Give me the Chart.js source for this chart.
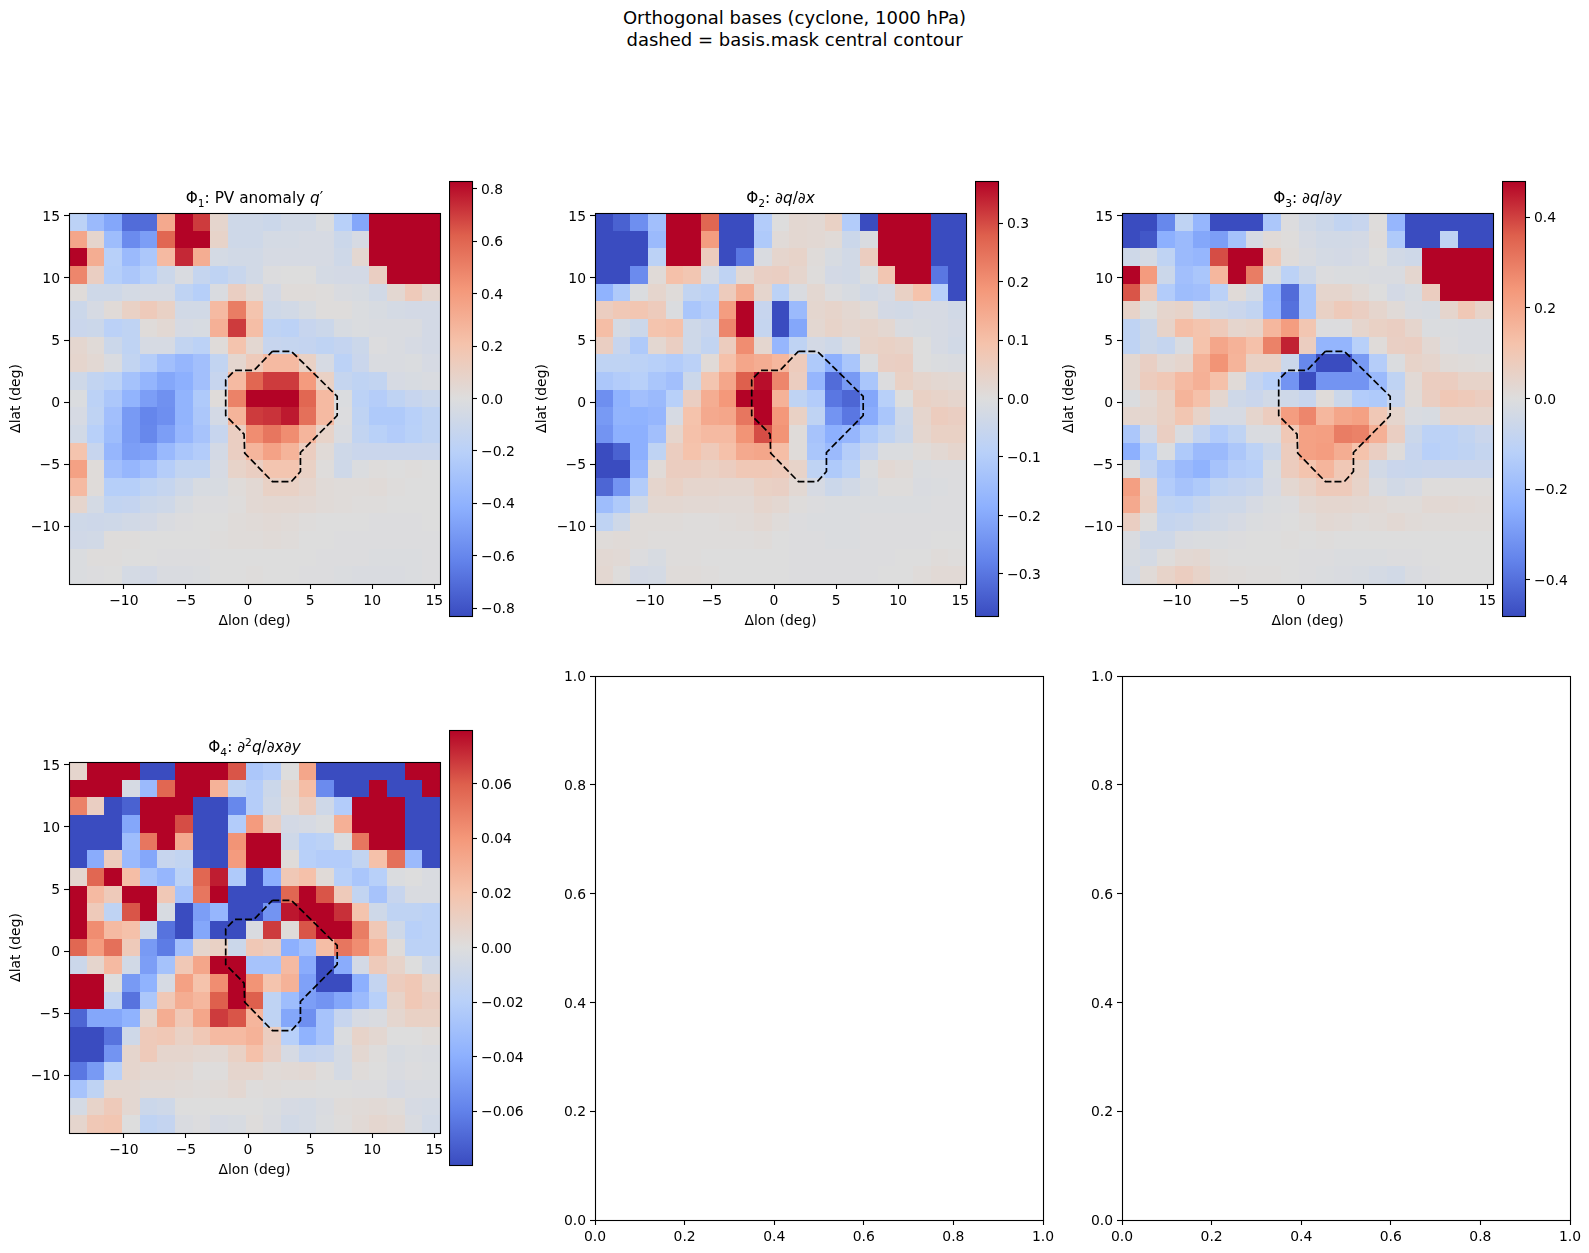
<!DOCTYPE html>
<html lang="en">
<head>
<meta charset="UTF-8" />
<title>Orthogonal bases</title>
<script src="https://cdn.jsdelivr.net/npm/chart.js"></script>
<style>
    html, body { margin: 0; padding: 0; background: #fff; }
    body { position: relative; width: 1589px; height: 1253px; overflow: hidden; font-family: 'DejaVu Sans', sans-serif; color: #000; }
    canvas { position: absolute; }
    .title { position: absolute; text-align: center; font-size: 15.3px; line-height: 18px; white-space: nowrap; }
    .title sub { font-size: 70%; line-height: 0; }
    .title sup { font-size: 70%; line-height: 0; }
    #suptitle { left: 0; width: 1589px; top: 7px; font-size: 18px; line-height: 21.5px; }
</style>
</head>
<body>
<div class="title" id="suptitle">Orthogonal bases (cyclone, 1000 hPa)<br>dashed = basis.mask central contour</div>
<script>
// tick positions on the map axes
const lonTicks = [-10, -5, 0, 5, 10, 15];
const latTicks = [-10, -5, 0, 5, 10, 15];
const unitTicks = [0, 0.2, 0.4, 0.6, 0.8, 1];

// colour limits and colourbar ticks of each basis
const phi1Limit = 0.83;
const phi2Limit = 0.372;
const phi3Limit = 0.48;
const phi4Limit = 0.0797;
const phi1Ticks = [-0.8, -0.6, -0.4, -0.2, 0, 0.2, 0.4, 0.6, 0.8];
const phi2Ticks = [-0.3, -0.2, -0.1, 0, 0.1, 0.2, 0.3];
const phi3Ticks = [-0.4, -0.2, 0, 0.2, 0.4];
const phi4Ticks = [-0.06, -0.04, -0.02, 0, 0.02, 0.04, 0.06];

// mask contour, degrees from the cyclone centre
const contourLon = [1.96, 3.49, 7.18, 7.18, 4.22, 4.22, 3.49, 1.96, -0.27, -0.32, -1.8, -1.8, -1.08, 0.48, 1.96];
const contourLat = [4.09, 4.09, 0.46, -1.08, -4.06, -5.59, -6.4, -6.4, -4.11, -2.58, -1.08, 1.8, 2.55, 2.55, 4.09];

// basis fields, 21 x 21, north row first, as a fraction of the colour limit
const phi1 = [
[-0.22,-0.42,-0.55,-0.85,-0.85,0.4,1,0.85,0.08,-0.1,-0.1,-0.12,-0.08,-0.08,-0.02,-0.25,-0.55,1,1,1,1],
[0.42,0.08,-0.4,-0.7,-0.6,0.72,1,1,0.1,-0.1,-0.1,-0.06,-0.06,-0.05,-0.05,-0.12,-0.05,1,1,1,1],
[1,0.38,-0.25,-0.42,-0.32,0.3,0.9,0.38,-0.06,-0.08,-0.08,-0.05,-0.05,-0.05,-0.05,-0.1,0.06,1,1,1,1],
[0.58,0.14,-0.26,-0.32,-0.25,-0.12,-0.03,-0.16,-0.2,-0.14,-0.08,-0.01,0,0,-0.06,-0.07,-0.07,0.14,1,1,1],
[0.02,-0.1,-0.1,-0.06,-0.05,-0.05,-0.2,-0.26,-0.03,0.14,0.05,-0.07,0.02,0.02,0.01,-0.03,-0.04,-0.08,0.06,0.18,0.08],
[-0.12,-0.05,0.03,0.12,0.18,0.12,-0.08,-0.08,0.3,0.62,0.24,-0.1,-0.08,-0.04,0.01,0.01,-0.02,-0.04,-0.06,-0.07,-0.07],
[-0.13,-0.12,-0.23,-0.2,0.02,0.05,-0.05,-0.04,0.36,0.85,0.28,-0.2,-0.22,-0.15,-0.12,-0.04,-0.02,-0.03,-0.03,-0.03,-0.07],
[0.07,0.03,-0.12,-0.2,-0.05,-0.05,-0.18,-0.22,0.02,0.24,0.06,-0.15,-0.16,-0.17,-0.2,-0.17,-0.12,-0.01,-0.03,-0.05,-0.07],
[0.08,0.05,-0.03,-0.18,-0.27,-0.38,-0.45,-0.38,-0.18,0.07,0.18,0.3,0.3,0.12,-0.05,-0.22,-0.13,-0.03,-0.03,-0.02,-0.05],
[-0.1,-0.18,-0.22,-0.36,-0.46,-0.55,-0.5,-0.38,-0.15,0.3,0.72,0.85,0.85,0.48,0.12,-0.16,-0.2,-0.18,-0.05,-0.04,-0.03],
[-0.02,-0.22,-0.32,-0.47,-0.6,-0.67,-0.47,-0.3,0.02,0.6,1,1,1,0.72,0.3,-0.02,-0.22,-0.27,-0.2,-0.15,-0.12],
[-0.05,-0.2,-0.38,-0.62,-0.73,-0.68,-0.47,-0.32,-0.07,0.34,0.85,0.87,0.94,0.68,0.3,-0.01,-0.2,-0.3,-0.3,-0.25,-0.2],
[-0.08,-0.25,-0.4,-0.62,-0.72,-0.6,-0.45,-0.35,-0.15,0.14,0.55,0.65,0.55,0.33,0.1,-0.03,-0.18,-0.24,-0.28,-0.24,-0.2],
[0.24,-0.15,-0.45,-0.6,-0.58,-0.43,-0.33,-0.28,-0.07,0.14,0.33,0.44,0.34,0.15,0.03,-0.1,-0.13,-0.13,-0.13,-0.13,-0.13],
[0.45,0.02,-0.38,-0.45,-0.38,-0.27,-0.18,-0.18,-0.05,0.1,0.14,0.23,0.23,0.12,0.01,-0.1,-0.02,0.01,0,0.01,0],
[0.3,0.02,-0.26,-0.26,-0.2,-0.16,-0.1,-0.04,-0.04,0.02,0.05,0.12,0.12,0.08,0.03,0.02,0.02,0.03,0.01,0,0],
[0.08,-0.06,-0.18,-0.17,-0.12,-0.1,-0.04,-0.01,-0.01,0.01,0.05,0.06,0.06,0.05,0.03,0.02,0.01,0.01,0,0,0],
[-0.1,-0.11,-0.1,-0.08,-0.07,-0.03,-0.01,0,0,0.02,0.03,0.04,0.03,0.01,0,0,0,-0.01,-0.01,-0.01,0],
[-0.09,-0.08,0.01,0.01,0,0,0,0,0.01,0.02,0.02,0.03,0.02,0,0,-0.01,-0.01,-0.01,-0.01,-0.01,-0.01],
[-0.02,0.01,0.01,0,0,-0.01,-0.01,-0.01,0,0,0,0,0,0,-0.01,-0.01,-0.01,-0.02,-0.02,-0.02,-0.01],
[-0.02,-0.01,0,-0.06,-0.07,-0.03,-0.03,-0.02,0,0,0.01,0,0,-0.01,-0.01,-0.02,-0.03,-0.03,-0.03,-0.02,-0.01]
];
const phi2 = [
[-1,-0.9,-0.68,-0.38,1,1,0.72,-1,-1,-0.28,0,0.06,0.05,0.12,-0.28,-1,1,1,1,-1,-1],
[-1,-1,-1,-0.42,1,1,0.47,-1,-1,-0.3,0.03,0.06,0.05,0.03,-0.12,-0.03,1,1,1,-1,-1],
[-1,-1,-1,-0.22,1,1,0.16,-1,-0.8,-0.03,0.08,0.1,0.02,-0.04,-0.08,0.15,1,1,1,-1,-1],
[-1,-1,-0.7,0.03,0.26,0.22,-0.05,-0.2,0.05,0.13,0.14,0.08,0.01,-0.07,-0.08,-0.02,0.22,1,1,-0.8,-1],
[-0.48,-0.3,-0.02,0.08,0.02,-0.18,-0.22,0.17,0.38,0.08,-0.22,-0.03,0.06,-0.01,-0.04,-0.08,-0.05,0.12,0.25,-0.25,-1],
[0.15,0.2,0.22,0.17,-0.02,-0.33,-0.27,0.47,1,-0.15,-1,-0.42,0.07,0.09,0.06,0.03,-0.07,-0.08,-0.05,-0.05,-0.08],
[0.28,-0.06,-0.12,0.24,0.26,-0.1,-0.15,0.58,1,-0.16,-1,-0.55,0.06,0.1,0.07,0.09,0.06,-0.03,-0.04,-0.05,-0.07],
[0.14,-0.15,-0.3,0.06,0.14,-0.1,-0.18,0.16,0.55,0.07,-0.45,-0.2,-0.07,-0.1,-0.03,0.1,0.12,0.1,0,-0.05,-0.08],
[-0.2,-0.2,-0.22,-0.25,-0.28,-0.23,0.03,0.26,0.42,0.38,0.32,0.17,-0.3,-0.5,-0.33,-0.02,0.13,0.14,0,-0.02,-0.03],
[-0.32,-0.28,-0.25,-0.33,-0.38,-0.12,0.23,0.42,0.75,0.97,0.58,0.15,-0.45,-0.85,-0.62,-0.33,-0.01,0.12,0.08,0.06,0.05],
[-0.68,-0.48,-0.38,-0.42,-0.25,0.14,0.38,0.5,1,1,0.35,-0.2,-0.28,-0.8,-0.88,-0.55,-0.25,0,0.12,0.1,0.08],
[-0.62,-0.47,-0.48,-0.45,-0.05,0.25,0.4,0.42,0.65,1,0.5,0.12,-0.2,-0.65,-0.8,-0.52,-0.33,-0.1,0.08,0.16,0.14],
[-0.65,-0.5,-0.5,-0.38,0.08,0.26,0.3,0.3,0.52,0.8,0.52,0.02,-0.35,-0.5,-0.45,-0.3,-0.2,-0.12,0.07,0.12,0.12],
[-1,-0.9,-0.5,-0.2,0.15,0.25,0.18,0.26,0.4,0.42,0.28,0.02,-0.33,-0.42,-0.27,-0.15,-0.02,-0.02,0.02,0.05,0.08],
[-1,-1,-0.45,0.03,0.15,0.15,0.12,0.15,0.2,0.2,0.18,0.1,-0.2,-0.3,-0.22,-0.02,0.05,0.03,-0.02,-0.01,-0.01],
[-0.88,-0.65,-0.28,0.08,0.12,0.08,0.08,0.07,0.07,0.12,0.13,0.05,-0.05,-0.12,-0.08,-0.04,0.01,0.01,-0.03,-0.02,-0.01],
[-0.4,-0.3,-0.1,0.06,0.06,0.05,0.05,0.04,0.04,0.08,0.06,0.01,-0.01,-0.02,-0.02,-0.02,-0.02,-0.02,-0.02,-0.01,-0.01],
[-0.2,-0.1,0.02,0.02,0.02,0.01,0.01,0.02,0.03,0.05,0.02,-0.01,-0.02,-0.02,-0.02,-0.01,-0.01,-0.01,-0.01,-0.01,-0.01],
[0.02,0.03,0.02,0.01,0.01,0.01,0.01,0.01,0.01,0.02,0,-0.01,-0.01,-0.02,-0.02,-0.01,-0.01,-0.01,-0.01,0,0],
[0.05,0.04,-0.01,-0.04,0.01,0.01,0,0,0,0,0,-0.01,-0.01,-0.01,-0.01,-0.01,-0.01,0,0,0.02,0.01],
[0.06,0.01,-0.07,-0.06,0.02,0.02,0.01,0,0,0,0,-0.01,-0.01,-0.01,-0.01,-0.01,0,0,0.02,0.04,0.04]
];
const phi3 = [
[-1,-1,-0.72,-0.2,-0.45,-1,-1,-1,-0.32,-0.01,-0.08,-0.12,-0.18,-0.15,0.01,-0.45,-1,-1,-1,-1,-1],
[-1,-0.95,-0.5,-0.42,-0.55,-0.6,-0.36,-0.05,0.03,0.01,-0.05,-0.08,-0.08,-0.07,0.02,-0.3,-1,-1,-0.2,-1,-1],
[-0.1,-0.06,-0.2,-0.42,-0.45,0.8,1,1,0.2,0.02,-0.03,-0.06,-0.07,-0.05,0,-0.08,-0.1,1,1,1,1],
[1,0.48,-0.12,-0.38,-0.33,0.32,1,0.62,-0.02,-0.22,-0.1,-0.01,-0.02,-0.02,-0.03,-0.03,0.07,1,1,1,1],
[0.78,0.18,-0.28,-0.4,-0.38,-0.23,0.03,-0.06,-0.47,-0.85,-0.32,0.08,0.08,0.04,0,-0.07,-0.04,0.15,1,1,1],
[0.1,0,0.08,0.1,-0.05,-0.1,-0.13,-0.18,-0.45,-0.83,-0.32,0.12,0.18,0.14,0.08,0.03,-0.03,-0.04,0.08,0.2,0.1],
[-0.2,-0.12,0.1,0.28,0.24,0.18,0.08,0.1,0.32,0.47,0.22,-0.01,-0.01,0.08,0.12,0.14,0.08,-0.02,-0.02,-0.03,-0.03],
[-0.2,-0.12,-0.16,-0.03,0.25,0.42,0.35,0.26,0.6,0.92,0.15,-0.46,-0.46,-0.25,0.02,0.13,0.14,0.05,-0.01,-0.03,-0.03],
[0.06,0.13,0.05,0.08,0.35,0.52,0.34,0.12,0.12,-0.12,-0.72,-1,-1,-0.62,-0.27,-0.02,0.1,0.08,0.03,0.02,0.01],
[0.06,0.16,0.2,0.3,0.36,0.26,0.03,-0.17,-0.25,-0.65,-1,-0.65,-0.65,-0.65,-0.42,-0.2,0.04,0.15,0.15,0.1,0.1],
[-0.02,0.05,0.12,0.34,0.26,0.07,-0.1,-0.13,-0.08,-0.1,-0.15,0.02,-0.12,-0.28,-0.3,-0.15,0.03,0.14,0.2,0.18,0.15],
[0.07,0.07,0.12,0.22,0.1,-0.05,-0.05,0.08,0.16,0.47,0.58,0.32,0.42,0.45,0.2,0.08,-0.03,-0.04,0.08,0.08,0.08],
[-0.32,-0.07,0.14,-0.03,-0.17,-0.28,-0.2,-0.03,-0.03,0.2,0.45,0.46,0.62,0.6,0.36,0.14,-0.12,-0.22,-0.22,-0.18,-0.13],
[-0.5,-0.25,-0.02,-0.3,-0.42,-0.42,-0.32,-0.22,-0.12,0.16,0.45,0.47,0.38,0.25,0.14,0.02,-0.15,-0.25,-0.22,-0.2,-0.16],
[-0.02,-0.17,-0.32,-0.42,-0.48,-0.35,-0.27,-0.25,-0.04,0.16,0.24,0.33,0.2,0.12,-0.08,-0.13,-0.14,-0.13,-0.13,-0.13,-0.13],
[0.46,0.1,-0.28,-0.35,-0.3,-0.2,-0.17,-0.14,-0.05,0.06,0.11,0.18,0.18,0.1,-0.03,-0.08,-0.05,0.01,0.01,0.01,0.01],
[0.4,0.12,-0.2,-0.22,-0.16,-0.1,-0.1,-0.05,-0.02,-0.01,0.05,0.07,0.07,0.06,0.04,0.02,0.02,0.05,0.05,0.04,0.03],
[0.14,0.01,-0.16,-0.14,-0.1,-0.08,-0.05,-0.02,-0.01,0,0.02,0.05,0.04,0.02,0.03,0.05,0.03,0.02,0.02,0.02,0.02],
[-0.03,-0.1,-0.1,-0.03,-0.02,-0.02,-0.01,0,0,0.01,0,0.01,0,0,0,0,0,0,0,0,0],
[-0.04,-0.06,0.01,0.05,0.06,0.01,0,0,0,0,-0.01,-0.01,-0.02,-0.02,-0.02,-0.01,-0.01,0,0,0,0],
[-0.06,0.03,0.1,0.15,0.1,0.03,0.02,0.01,0.01,0,-0.01,-0.02,-0.03,-0.04,-0.06,-0.08,-0.03,-0.01,0,0,0]
];
const phi4 = [
[0.08,1,1,1,-1,-1,1,1,1,0.78,-0.32,-0.27,0,0.42,-1,-1,-1,-1,-1,1,1],
[1,1,1,-0.05,-0.42,0.72,1,1,0.35,-0.2,-0.27,-0.12,0.06,0.28,-0.7,-1,-1,1,-1,-1,1],
[0.6,0.14,-1,-0.9,1,1,1,-1,-1,-0.72,-0.27,-0.1,0.04,0.16,-0.1,-0.28,1,1,1,-1,-1],
[-1,-1,-1,-0.55,1,1,0.8,-1,-1,-0.28,0.48,0.14,-0.07,-0.05,-0.02,0.36,1,1,1,-1,-1],
[-1,-1,-1,-0.4,0.65,1,0.4,-1,-1,0.52,1,1,-0.1,-0.25,-0.22,-0.02,0.65,1,1,-1,-1],
[-1,-0.52,0.16,-0.42,-0.55,-0.15,-0.18,-0.98,-1,0.48,1,1,0.02,-0.25,-0.28,-0.28,-0.18,0.26,0.68,-0.42,-1],
[0.07,0.72,1,0.28,-0.35,-0.45,-0.22,0.72,0.93,-0.3,-1,-0.5,0.2,0.26,0.03,-0.25,-0.33,-0.25,-0.02,0,-0.03],
[1,0.3,0.18,1,1,0.2,-0.35,0.65,1,-1,-1,-1,0.72,1,0.78,0.18,-0.18,-0.35,-0.15,-0.03,-0.03],
[1,0.18,-0.2,0.78,1,-0.04,-1,-0.6,-0.45,-1,-1,-0.65,0.95,1,1,0.88,0.24,-0.1,-0.2,-0.2,-0.22],
[1,0.55,0.3,0.26,-0.1,-0.82,-1,-0.55,-1,-1,-0.03,0.85,0.02,0.78,1,1,0.62,0.2,-0.1,-0.25,-0.22],
[0.72,0.48,0.68,0.18,-0.62,-0.78,-0.38,0.08,0.12,-0.12,0.2,0.16,-0.5,-0.38,0.28,0.65,0.55,0.32,0.02,-0.22,-0.22],
[-0.12,0.08,0.3,-0.08,-0.6,-0.36,0.2,0.42,1,1,-0.35,-0.35,0.3,-0.52,-1,-0.52,-0.07,0.18,0.1,0,-0.1],
[1,1,0,-0.62,-0.48,-0.05,0.45,0.25,0.55,1,0.52,0.24,0.35,-0.58,-1,-1,-0.5,-0.17,0.16,0.2,0.1],
[1,1,-0.18,-0.82,-0.32,0.2,0.38,0.32,0.75,1,0.75,-0.2,-0.4,-0.6,-0.65,-0.55,-0.42,-0.25,0.1,0.2,0.15],
[-0.88,-0.55,-0.55,-0.48,0.08,0.38,0.2,0.42,0.85,0.78,0.33,-0.2,-0.55,-0.68,-0.35,-0.15,-0.05,-0.03,0.07,0.12,0.12],
[-1,-1,-0.82,-0.1,0.18,0.2,0.12,0.2,0.3,0.3,0.35,0.15,-0.25,-0.48,-0.35,-0.02,0.1,0.06,0,0,0.02],
[-1,-1,-0.65,0.08,0.18,0.08,0.08,0.06,0.05,0.12,0.26,0.13,-0.05,-0.17,-0.15,-0.06,0.06,0.01,-0.04,-0.02,-0.03],
[-0.8,-0.62,-0.25,0.08,0.06,0.06,0.05,0.01,0.01,0.08,0.08,0.03,0.04,0.05,0.01,-0.06,0.02,0,-0.03,-0.01,-0.02],
[-0.35,-0.2,0.06,0.06,0.04,0.04,0.03,0.02,0.03,0.06,0.01,0.02,0.01,0.01,0,0,-0.01,-0.01,-0.05,-0.03,-0.03],
[-0.06,0.1,0.18,0.06,-0.12,-0.1,0,0,0,0,0,-0.02,-0.05,-0.06,-0.03,0.02,0.03,0.04,0.02,-0.05,-0.06],
[0.08,0.2,0.22,0,-0.2,-0.17,-0.03,-0.01,-0.05,-0.04,0.01,-0.03,-0.08,-0.06,-0.02,0.01,0.04,0.07,0.05,-0.03,-0.08]
];

// grid extent in degrees
const lonMin = -14.42, lonMax = 15.46;
const latMin = -14.65, latMax = 15.23;
const gridStep = (lonMax - lonMin) / 21;

const coolwarmStops = [[58,76,192],[98,130,234],[141,176,254],[184,208,249],[221,221,221],[245,195,172],[244,152,122],[222,96,77],[179,3,38]];

function coolwarm(t) {
    t = Math.max(0, Math.min(1, t));
    const f = t * (coolwarmStops.length - 1);
    const i = Math.min(Math.floor(f), coolwarmStops.length - 2);
    const a = coolwarmStops[i], b = coolwarmStops[i + 1], k = f - i;
    return 'rgb(' + a.map((c, n) => Math.round(c + (b[n] - c) * k)).join(',') + ')';
}

Chart.defaults.font.family = "'DejaVu Sans', sans-serif";
Chart.defaults.font.size = 13.9;
Chart.defaults.color = '#000';

const minus = s => s.replace('-', '\u2212');

// paints the cell dataset under the contour line
const heatCells = {
    id: 'heatCells',
    beforeDatasetsDraw(chart) {
        const ds = chart.data.datasets[0];
        const { x, y } = chart.scales;
        const ctx = chart.ctx;
        ds.data.forEach(p => {
            const x0 = Math.round(x.getPixelForValue(p.x - gridStep / 2));
            const x1 = Math.round(x.getPixelForValue(p.x + gridStep / 2));
            const y0 = Math.round(y.getPixelForValue(p.y + gridStep / 2));
            const y1 = Math.round(y.getPixelForValue(p.y - gridStep / 2));
            ctx.fillStyle = coolwarm(p.v / ds.limit / 2 + 0.5);
            ctx.fillRect(x0, y0, x1 - x0, y1 - y0);
        });
    }
};

// box around the axes
const frame = {
    id: 'frame',
    afterDraw(chart) {
        const a = chart.chartArea, ctx = chart.ctx;
        ctx.save();
        ctx.strokeStyle = '#000';
        ctx.lineWidth = 1.1;
        ctx.strokeRect(a.left + 0.5, a.top + 0.5, a.right - a.left, a.bottom - a.top);
        ctx.restore();
    }
};

function makeCanvas(left, top, width, height) {
    const c = document.createElement('canvas');
    c.width = width;
    c.height = height;
    c.style.left = left + 'px';
    c.style.top = top + 'px';
    document.body.appendChild(c);
    return c;
}

function addTitle(html, left, width, top) {
    const d = document.createElement('div');
    d.className = 'title';
    d.style.left = left + 'px';
    d.style.width = width + 'px';
    d.style.top = top + 'px';
    d.innerHTML = html;
    document.body.appendChild(d);
}

function axis(pos, min, max, ticks, fmt, size, label) {
    const o = {
        type: 'linear', position: pos, min: min, max: max,
        afterBuildTicks: s => { s.ticks = ticks.map(v => ({ value: v })); },
        afterFit: s => {
            if (pos === 'bottom') s.height = size; else s.width = size;
            // the canvas margins already hold the end labels
            s.paddingLeft = s.paddingRight = s.paddingTop = s.paddingBottom = 0;
            if (pos !== 'bottom' && !s._labelNudge) {
                // digits sit a little high on a middle baseline
                const compute = s._computeLabelItems;
                s._computeLabelItems = function (area) {
                    const items = compute.call(this, area);
                    items.forEach(it => { it.options.translation[1] += 1.5; });
                    return items;
                };
                s._labelNudge = true;
            }
        },
        border: { display: false },
        grid: { drawOnChartArea: false, drawTicks: true, tickLength: 5, tickColor: '#000', tickWidth: 1.1 },
        ticks: { autoSkip: false, maxRotation: 0, minRotation: 0, padding: 4, callback: v => fmt(v) }
    };
    if (label) o.title = { display: true, text: label, padding: 0 };
    return o;
}

const intFmt = v => minus(String(v));
const unitFmt = v => v.toFixed(1);

// map axes share one canvas margin so the plot area lands where it should
const leftMargin = 61, topMargin = 12, rightMargin = 16, bottomMargin = 46;

function heatPanel(left, top, size, field, limit) {
    const cells = [];
    field.forEach((row, r) => row.forEach((f, c) => {
        cells.push({ x: lonMin + (c + 0.5) * gridStep, y: latMax - (r + 0.5) * gridStep, v: f * limit });
    }));
    const contour = contourLon.map((lon, i) => ({ x: lon, y: contourLat[i] }));
    new Chart(makeCanvas(left - leftMargin, top - topMargin, size + leftMargin + rightMargin, size + topMargin + bottomMargin), {
        type: 'scatter',
        data: {
            datasets: [
                { data: cells, limit: limit, pointRadius: 0 },
                { data: contour, showLine: true, pointRadius: 0, borderColor: '#000', borderWidth: 1.7, borderDash: [7, 3], fill: false }
            ]
        },
        options: {
            responsive: false, animation: false,
            layout: { padding: { top: topMargin, right: rightMargin } },
            plugins: { legend: { display: false }, tooltip: { enabled: false } },
            scales: {
                x: axis('bottom', lonMin, lonMax, lonTicks, intFmt, bottomMargin, '\u0394lon (deg)'),
                y: axis('left', latMin, latMax, latTicks, intFmt, leftMargin, '\u0394lat (deg)')
            }
        },
        plugins: [heatCells, frame]
    });
}

function colourBar(left, top, width, height, limit, ticks, fmt) {
    const pad = 12, right = 55;
    new Chart(makeCanvas(left, top - pad, width + right, height + pad * 2), {
        type: 'bar',
        data: {
            labels: [''],
            datasets: [{
                data: [[-limit, limit]],
                barPercentage: 1, categoryPercentage: 1,
                backgroundColor: c => {
                    const a = c.chart.chartArea;
                    if (!a) return '#ddd';
                    const g = c.chart.ctx.createLinearGradient(0, a.bottom, 0, a.top);
                    coolwarmStops.forEach((s, i) => g.addColorStop(i / (coolwarmStops.length - 1), 'rgb(' + s.join(',') + ')'));
                    return g;
                }
            }]
        },
        options: {
            responsive: false, animation: false,
            layout: { padding: { top: pad, bottom: pad } },
            plugins: { legend: { display: false }, tooltip: { enabled: false } },
            scales: {
                x: { display: false },
                y: axis('right', -limit, limit, ticks, fmt, right)
            }
        },
        plugins: [frame]
    });
}

function emptyPanel(left, top, width, height) {
    new Chart(makeCanvas(left - leftMargin, top - topMargin, width + leftMargin + rightMargin, height + topMargin + bottomMargin), {
        type: 'scatter',
        data: { datasets: [] },
        options: {
            responsive: false, animation: false,
            layout: { padding: { top: topMargin, right: rightMargin } },
            plugins: { legend: { display: false }, tooltip: { enabled: false } },
            scales: {
                x: axis('bottom', 0, 1, unitTicks, unitFmt, bottomMargin),
                y: axis('left', 0, 1, unitTicks, unitFmt, leftMargin)
            }
        },
        plugins: [frame]
    });
}

const fmt1 = v => minus(v.toFixed(1));
const fmt2 = v => minus(v.toFixed(2));

heatPanel(69, 213, 371, phi1, phi1Limit);
colourBar(449, 181, 23, 435, phi1Limit, phi1Ticks, fmt1);
addTitle('\u03A6<sub>1</sub>: PV anomaly <i>q</i>\u2032', 69, 371, 189);

heatPanel(595, 213, 371, phi2, phi2Limit);
colourBar(975, 181, 23, 435, phi2Limit, phi2Ticks, fmt1);
addTitle('\u03A6<sub>2</sub>: \u2202<i>q</i>/\u2202<i>x</i>', 595, 371, 189);

heatPanel(1122, 213, 371, phi3, phi3Limit);
colourBar(1502, 181, 23, 435, phi3Limit, phi3Ticks, fmt1);
addTitle('\u03A6<sub>3</sub>: \u2202<i>q</i>/\u2202<i>y</i>', 1122, 371, 189);

heatPanel(69, 762, 371, phi4, phi4Limit);
colourBar(449, 730, 23, 435, phi4Limit, phi4Ticks, fmt2);
addTitle('\u03A6<sub>4</sub>: \u2202<sup>2</sup><i>q</i>/\u2202<i>x</i>\u2202<i>y</i>', 69, 371, 738);

emptyPanel(595, 676, 448, 544);
emptyPanel(1122, 676, 448, 544);
</script>
</body>
</html>
